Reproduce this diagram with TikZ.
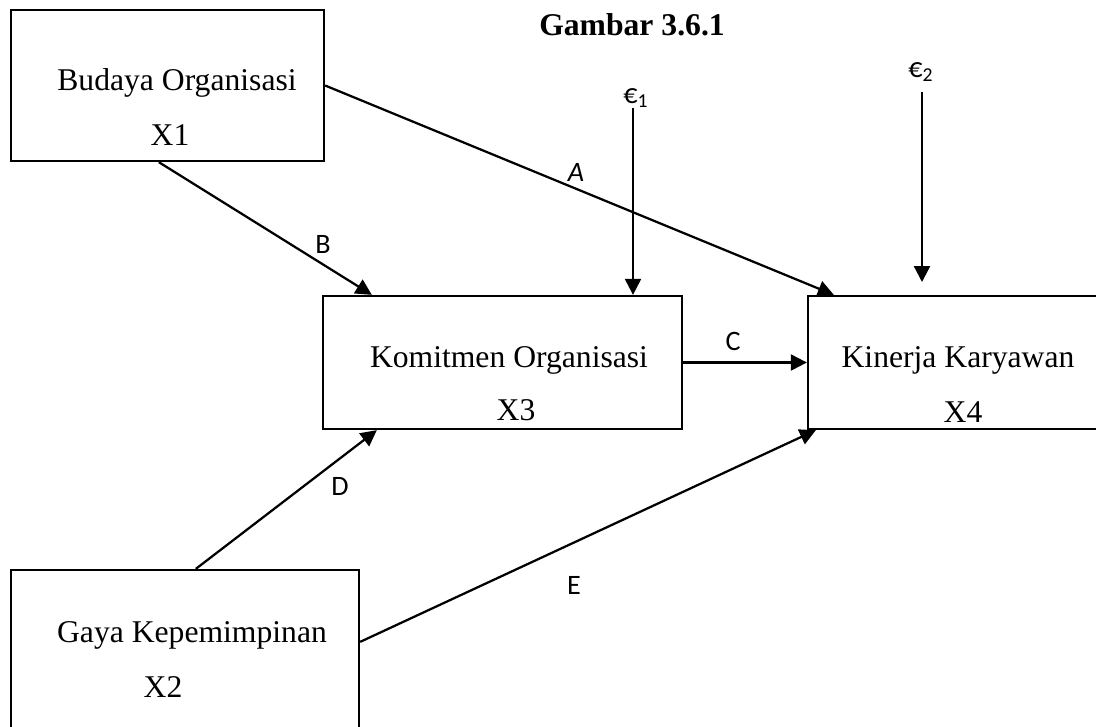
\documentclass[tikz,border=0pt]{standalone}
\usepackage{fontspec}
\setmainfont{Liberation Serif}
\newfontfamily\calfont{Carlito}
\usepackage{tikz}
\usetikzlibrary{arrows.meta,calc}

\begin{document}
\begin{tikzpicture}[x=0.025cm,y=-0.025cm,
		kotak/.style={draw, line width=1.6pt, inner sep=0pt},
		teks/.style={font=\fontsize{22.5}{27}\selectfont, inner sep=0pt, anchor=base},
		huruf/.style={font=\calfont\fontsize{20}{24}\selectfont, inner sep=0pt},
		panah/.style={line width=1.6pt, -{Triangle[length=0.4cm,width=0.4cm]}}]
		\useasboundingbox (0,0) rectangle (1096,726);
		\clip (0,0) rectangle (1096,726);
		\node[teks, font=\bfseries\fontsize{22.5}{27}\selectfont] (judul) at (632,35) {Gambar 3.6.1};
		% kotak variabel
		\node[kotak, minimum width=7.825cm, minimum height=3.775cm] (budaya) at (167.5,85.5) {};
		\node[kotak, minimum width=8.975cm, minimum height=3.325cm] (komitmen) at (502.5,362.5) {};
		\node[kotak, minimum width=7.675cm, minimum height=3.325cm] (kinerja) at (961.5,362.5) {};
		\node[kotak, minimum width=8.7cm, minimum height=4.375cm] (gaya) at (185,657.5) {};
		\node[teks] (budayaA) at (177,90) {Budaya Organisasi};
		\node[teks] (budayaB) at (170,145) {X1};
		\node[teks] (komitmenA) at (509,367) {Komitmen Organisasi};
		\node[teks] (komitmenB) at (516,420) {X3};
		\node[teks] (kinerjaA) at (958,367) {Kinerja Karyawan};
		\node[teks] (kinerjaB) at (963,422) {X4};
		\node[teks] (gayaA) at (192,642) {Gaya Kepemimpinan};
		\node[teks] (gayaB) at (163,697) {X2};
		% error
		\node[huruf, anchor=base west] (eps1) at (623,103) {€\textsubscript{1}};
		\node[huruf, anchor=base west] (eps2) at (908,77) {€\textsubscript{2}};
		\coordinate (eps1bawah) at (633,108);
		\coordinate (eps2bawah) at (922,92);
		\coordinate (eps2ujung) at (922,282);
		% jalur
		\draw[panah] (budaya.east) -- ($(kinerja.north west)+(27,0)$);
		\draw[panah] ($(budaya.south west)+(149,0)$) -- ($(komitmen.north west)+(50,0)$);
		\draw[panah] (komitmen.east) -- (kinerja.west);
		\draw[panah] ($(gaya.north west)+(186,0)$) -- ($(komitmen.south west)+(55,0)$);
		\draw[panah] ($(gaya.north east)+(0,73)$) -- ($(kinerja.south west)+(9,0)$);
		\draw[panah] (eps1bawah) -- (eps1bawah |- komitmen.north);
		\draw[panah] (eps2bawah) -- (eps2ujung);
		\node[huruf, font=\calfont\itshape\fontsize{20}{24}\selectfont] (labelA) at (576,172) {A};
		\node[huruf] (labelB) at (323,244) {B};
		\node[huruf] (labelC) at (733,341) {C};
		\node[huruf] (labelD) at (340,486) {D};
		\node[huruf] (labelE) at (574,585) {E};
	\end{tikzpicture}
\end{document}
